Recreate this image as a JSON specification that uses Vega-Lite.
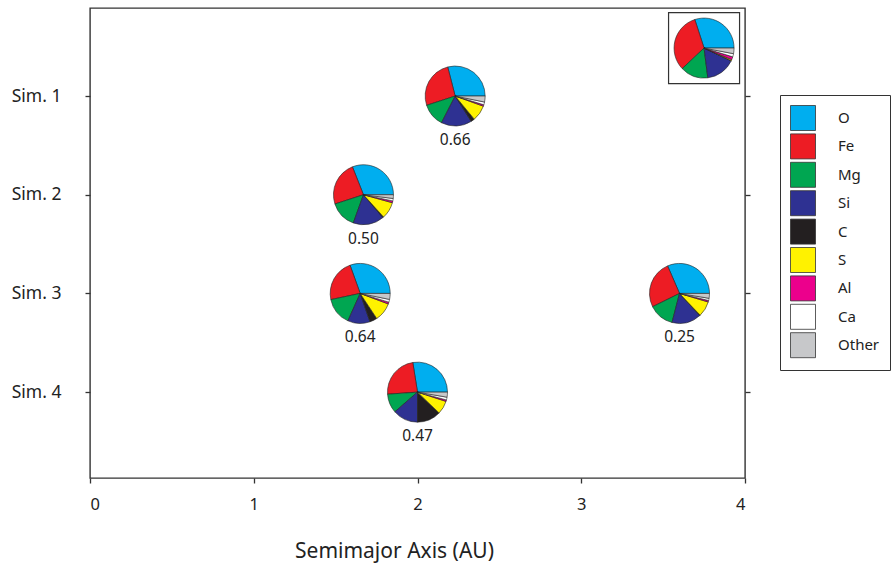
{
  "$schema": "https://vega.github.io/schema/vega-lite/v6.json",
  "width": 655,
  "height": 470,
  "padding": {"left": 11, "top": 8, "right": 2, "bottom": 2},
  "config": {
    "font": "Noto Sans",
    "view": {"stroke": "#333333", "strokeWidth": 1.4},
    "axis": {"grid": false, "domain": false, "tickColor": "#333333", "tickWidth": 1.3, "tickSize": 5, "labelFontSize": 16.5, "labelColor": "#222222", "titleFontSize": 21, "titleFontWeight": "normal", "titleColor": "#222222"},
    "legend": {"orient": "none", "legendX": 690, "legendY": 87, "symbolType": "square", "symbolSize": 625, "symbolStrokeColor": "#333333", "symbolStrokeWidth": 0.8, "symbolOpacity": 1, "strokeColor": "#333333", "padding": 10, "rowPadding": -1.6, "labelFontSize": 15, "labelOffset": 22, "labelColor": "#222222"}
  },
  "datasets": {
    "pies": [
      {"pie": "Earth", "a": 3.75, "sim": 0.514, "el": "O", "k": 1, "f": 0.30},
      {"pie": "Earth", "a": 3.75, "sim": 0.514, "el": "Fe", "k": 2, "f": 0.32},
      {"pie": "Earth", "a": 3.75, "sim": 0.514, "el": "Mg", "k": 3, "f": 0.15},
      {"pie": "Earth", "a": 3.75, "sim": 0.514, "el": "Si", "k": 4, "f": 0.16},
      {"pie": "Earth", "a": 3.75, "sim": 0.514, "el": "C", "k": 5, "f": 0.001},
      {"pie": "Earth", "a": 3.75, "sim": 0.514, "el": "S", "k": 6, "f": 0.006},
      {"pie": "Earth", "a": 3.75, "sim": 0.514, "el": "Al", "k": 7, "f": 0.016},
      {"pie": "Earth", "a": 3.75, "sim": 0.514, "el": "Ca", "k": 8, "f": 0.017},
      {"pie": "Earth", "a": 3.75, "sim": 0.514, "el": "Other", "k": 9, "f": 0.03},

      {"pie": "S1", "a": 2.23, "sim": 1, "el": "O", "k": 1, "f": 0.29},
      {"pie": "S1", "a": 2.23, "sim": 1, "el": "Fe", "k": 2, "f": 0.26},
      {"pie": "S1", "a": 2.23, "sim": 1, "el": "Mg", "k": 3, "f": 0.125},
      {"pie": "S1", "a": 2.23, "sim": 1, "el": "Si", "k": 4, "f": 0.165},
      {"pie": "S1", "a": 2.23, "sim": 1, "el": "C", "k": 5, "f": 0.02},
      {"pie": "S1", "a": 2.23, "sim": 1, "el": "S", "k": 6, "f": 0.085},
      {"pie": "S1", "a": 2.23, "sim": 1, "el": "Al", "k": 7, "f": 0.008},
      {"pie": "S1", "a": 2.23, "sim": 1, "el": "Ca", "k": 8, "f": 0.015},
      {"pie": "S1", "a": 2.23, "sim": 1, "el": "Other", "k": 9, "f": 0.032},

      {"pie": "S2", "a": 1.67, "sim": 2, "el": "O", "k": 1, "f": 0.31},
      {"pie": "S2", "a": 1.67, "sim": 2, "el": "Fe", "k": 2, "f": 0.24},
      {"pie": "S2", "a": 1.67, "sim": 2, "el": "Mg", "k": 3, "f": 0.145},
      {"pie": "S2", "a": 1.67, "sim": 2, "el": "Si", "k": 4, "f": 0.167},
      {"pie": "S2", "a": 1.67, "sim": 2, "el": "C", "k": 5, "f": 0.005},
      {"pie": "S2", "a": 1.67, "sim": 2, "el": "S", "k": 6, "f": 0.09},
      {"pie": "S2", "a": 1.67, "sim": 2, "el": "Al", "k": 7, "f": 0.01},
      {"pie": "S2", "a": 1.67, "sim": 2, "el": "Ca", "k": 8, "f": 0.013},
      {"pie": "S2", "a": 1.67, "sim": 2, "el": "Other", "k": 9, "f": 0.02},

      {"pie": "S3a", "a": 1.65, "sim": 3, "el": "O", "k": 1, "f": 0.305},
      {"pie": "S3a", "a": 1.65, "sim": 3, "el": "Fe", "k": 2, "f": 0.228},
      {"pie": "S3a", "a": 1.65, "sim": 3, "el": "Mg", "k": 3, "f": 0.15},
      {"pie": "S3a", "a": 1.65, "sim": 3, "el": "Si", "k": 4, "f": 0.12},
      {"pie": "S3a", "a": 1.65, "sim": 3, "el": "C", "k": 5, "f": 0.04},
      {"pie": "S3a", "a": 1.65, "sim": 3, "el": "S", "k": 6, "f": 0.1},
      {"pie": "S3a", "a": 1.65, "sim": 3, "el": "Al", "k": 7, "f": 0.01},
      {"pie": "S3a", "a": 1.65, "sim": 3, "el": "Ca", "k": 8, "f": 0.015},
      {"pie": "S3a", "a": 1.65, "sim": 3, "el": "Other", "k": 9, "f": 0.032},

      {"pie": "S3b", "a": 3.6, "sim": 3, "el": "O", "k": 1, "f": 0.315},
      {"pie": "S3b", "a": 3.6, "sim": 3, "el": "Fe", "k": 2, "f": 0.258},
      {"pie": "S3b", "a": 3.6, "sim": 3, "el": "Mg", "k": 3, "f": 0.137},
      {"pie": "S3b", "a": 3.6, "sim": 3, "el": "Si", "k": 4, "f": 0.158},
      {"pie": "S3b", "a": 3.6, "sim": 3, "el": "C", "k": 5, "f": 0.003},
      {"pie": "S3b", "a": 3.6, "sim": 3, "el": "S", "k": 6, "f": 0.083},
      {"pie": "S3b", "a": 3.6, "sim": 3, "el": "Al", "k": 7, "f": 0.008},
      {"pie": "S3b", "a": 3.6, "sim": 3, "el": "Ca", "k": 8, "f": 0.012},
      {"pie": "S3b", "a": 3.6, "sim": 3, "el": "Other", "k": 9, "f": 0.026},

      {"pie": "S4", "a": 2.0, "sim": 4, "el": "O", "k": 1, "f": 0.275},
      {"pie": "S4", "a": 2.0, "sim": 4, "el": "Fe", "k": 2, "f": 0.236},
      {"pie": "S4", "a": 2.0, "sim": 4, "el": "Mg", "k": 3, "f": 0.103},
      {"pie": "S4", "a": 2.0, "sim": 4, "el": "Si", "k": 4, "f": 0.136},
      {"pie": "S4", "a": 2.0, "sim": 4, "el": "C", "k": 5, "f": 0.128},
      {"pie": "S4", "a": 2.0, "sim": 4, "el": "S", "k": 6, "f": 0.072},
      {"pie": "S4", "a": 2.0, "sim": 4, "el": "Al", "k": 7, "f": 0.008},
      {"pie": "S4", "a": 2.0, "sim": 4, "el": "Ca", "k": 8, "f": 0.015},
      {"pie": "S4", "a": 2.0, "sim": 4, "el": "Other", "k": 9, "f": 0.027}
    ],
    "labels": [
      {"a": 2.23, "sim": 1, "label": "0.66"},
      {"a": 1.67, "sim": 2, "label": "0.50"},
      {"a": 1.65, "sim": 3, "label": "0.64"},
      {"a": 3.6, "sim": 3, "label": "0.25"},
      {"a": 2.0, "sim": 4, "label": "0.47"}
    ],
    "box": [{"a": 3.75, "sim": 0.514}]
  },
  "layer": [
    {
      "data": {"name": "box"},
      "mark": {"type": "point", "shape": "square", "size": 5041, "filled": false, "stroke": "#333333", "strokeWidth": 1.2, "opacity": 1},
      "encoding": {
        "x": {"field": "a", "type": "quantitative", "scale": {"domain": [0, 4], "nice": false, "zero": false}, "axis": {"values": [0, 1, 2, 3, 4], "title": "Semimajor Axis (AU)", "labelPadding": 13, "titlePadding": 28, "titleX": 304, "titleAlign": "center", "titleAnchor": null, "format": "d"}},
        "y": {"field": "sim", "type": "quantitative", "scale": {"domain": [0.108, 4.87], "reverse": true, "nice": false, "zero": false}, "axis": {"orient": "right", "values": [1, 2, 3, 4], "labels": false, "title": null}}
      }
    },
    {
      "data": {"name": "pies"},
      "transform": [{"stack": "f", "groupby": ["pie"], "sort": [{"field": "k", "order": "ascending"}], "as": ["t0", "t1"]}],
      "mark": {"type": "arc", "outerRadius": 30, "stroke": "#222222", "strokeWidth": 0.6},
      "encoding": {
        "x": {"field": "a", "type": "quantitative"},
        "y": {"field": "sim", "type": "quantitative", "axis": {"orient": "left", "values": [1, 2, 3, 4], "labelExpr": "'Sim. ' + datum.value", "labelPadding": 24, "labelFontSize": 17.5, "title": null}},
        "theta": {"field": "t0", "type": "quantitative", "scale": {"domain": [0, 1], "range": [1.5708, -4.7124]}},
        "theta2": {"field": "t1"},
        "color": {"field": "el", "type": "nominal", "title": null, "scale": {"domain": ["O", "Fe", "Mg", "Si", "C", "S", "Al", "Ca", "Other"], "range": ["#00AEEF", "#ED1C24", "#00A651", "#2E3192", "#231F20", "#FFF200", "#EC008C", "#FFFFFF", "#C7C8CA"]}}
      }
    },
    {
      "data": {"name": "labels"},
      "mark": {"type": "text", "dy": 44, "fontSize": 15.5, "color": "#222222"},
      "encoding": {
        "x": {"field": "a", "type": "quantitative"},
        "y": {"field": "sim", "type": "quantitative", "axis": null},
        "text": {"field": "label"}
      }
    }
  ],
  "resolve": {"axis": {"y": "independent"}}
}
